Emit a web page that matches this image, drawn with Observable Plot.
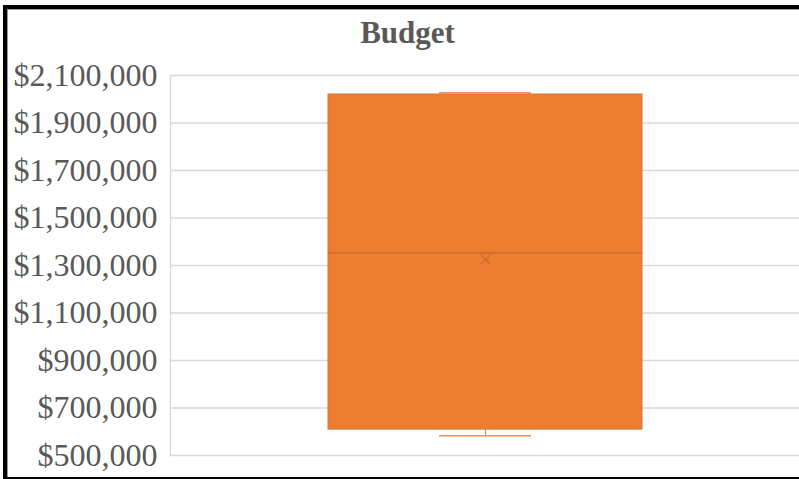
<!DOCTYPE html>
<html>
<head>
<meta charset="utf-8">
<script src="https://cdn.jsdelivr.net/npm/d3@7"></script>
<script src="https://cdn.jsdelivr.net/npm/@observablehq/plot@0.6"></script>
<style>
  html, body { margin: 0; padding: 0; background: #fff; overflow: hidden; }
  #wrap { position: relative; width: 799px; height: 479px; overflow: hidden; background: #fff; }
  #frame { position: absolute; left: 3px; top: 5px; width: 900px; height: 476px; box-sizing: border-box;
           border-top: 4px solid #000; border-left: 4px solid #000; border-bottom: 4px solid #000;
           box-shadow: inset 1px 1px 0 #9a9a9a; z-index: 2; pointer-events: none; }
  #title { position: absolute; left: 0; top: 17px; width: 815px; text-align: center;
           font: bold 31px/31px "Liberation Serif", serif; color: #595959; z-index: 3; }
  #chart { position: absolute; left: 0; top: 0; z-index: 1; }
</style>
</head>
<body>
<div id="wrap">
  <div id="chart"></div>
  <div id="frame"></div>
  <div id="title">Budget</div>
</div>
<script>
const categories = ["Budget"];
const minValues = [583000];
const q1Values = [609000];
const medianValues = [1353000];
const q3Values = [2020000];
const maxValues = [2027000];
const meanValues = [1325000];
const yTicks = [500000, 700000, 900000, 1100000, 1300000, 1500000, 1700000, 1900000, 2100000];

const data = categories.map((c, i) => ({
  cat: c, min: minValues[i], q1: q1Values[i], median: medianValues[i],
  q3: q3Values[i], max: maxValues[i], mean: meanValues[i]
}));

const fmt = d3.format("$,.0f");

const chart = Plot.plot({
  width: 799,
  height: 479,
  marginTop: 75,
  marginBottom: 24,
  marginLeft: 170,
  marginRight: 0,
  style: { fontFamily: "'Liberation Serif', serif", background: "transparent", color: "#595959" },
  x: { type: "band", domain: categories, padding: 1/3, axis: null },
  y: { domain: [500000, 2100000], ticks: yTicks, tickFormat: fmt, label: null },
  marks: [
    Plot.ruleY(yTicks, { stroke: "#d9d9d9", strokeWidth: 1.3 }),
    Plot.frame({ anchor: "left", stroke: "#d9d9d9", strokeWidth: 1.3 }),
    Plot.axisY({ ticks: yTicks, tickFormat: fmt, tickSize: 0, tickPadding: 13, fontSize: 32, fill: "#595959", label: null }),
    Plot.ruleX(data, { x: "cat", y1: "min", y2: "q1", stroke: "#E8905A", strokeWidth: 1.3 }),
    Plot.ruleX(data, { x: "cat", y1: "q3", y2: "max", stroke: "#E8905A", strokeWidth: 1.3 }),
    Plot.tickY(data, { x: "cat", y: "min", stroke: "#E8905A", strokeWidth: 1.5, insetLeft: 111, insetRight: 111 }),
    Plot.tickY(data, { x: "cat", y: "max", stroke: "#E8905A", strokeWidth: 1.5, insetLeft: 111, insetRight: 111 }),
    Plot.barY(data, { x: "cat", y1: "q1", y2: "q3", fill: "#ED7D31", stroke: "#DA7537", strokeWidth: 1 }),
    Plot.tickY(data, { x: "cat", y: "median", stroke: "#C8682C", strokeWidth: 1.2 }),
    Plot.dot(data, { x: "cat", y: "mean", symbol: "times", r: 4.5, stroke: "#C8682C", strokeWidth: 1.2 })
  ]
});
document.getElementById("chart").appendChild(chart);
</script>
</body>
</html>
